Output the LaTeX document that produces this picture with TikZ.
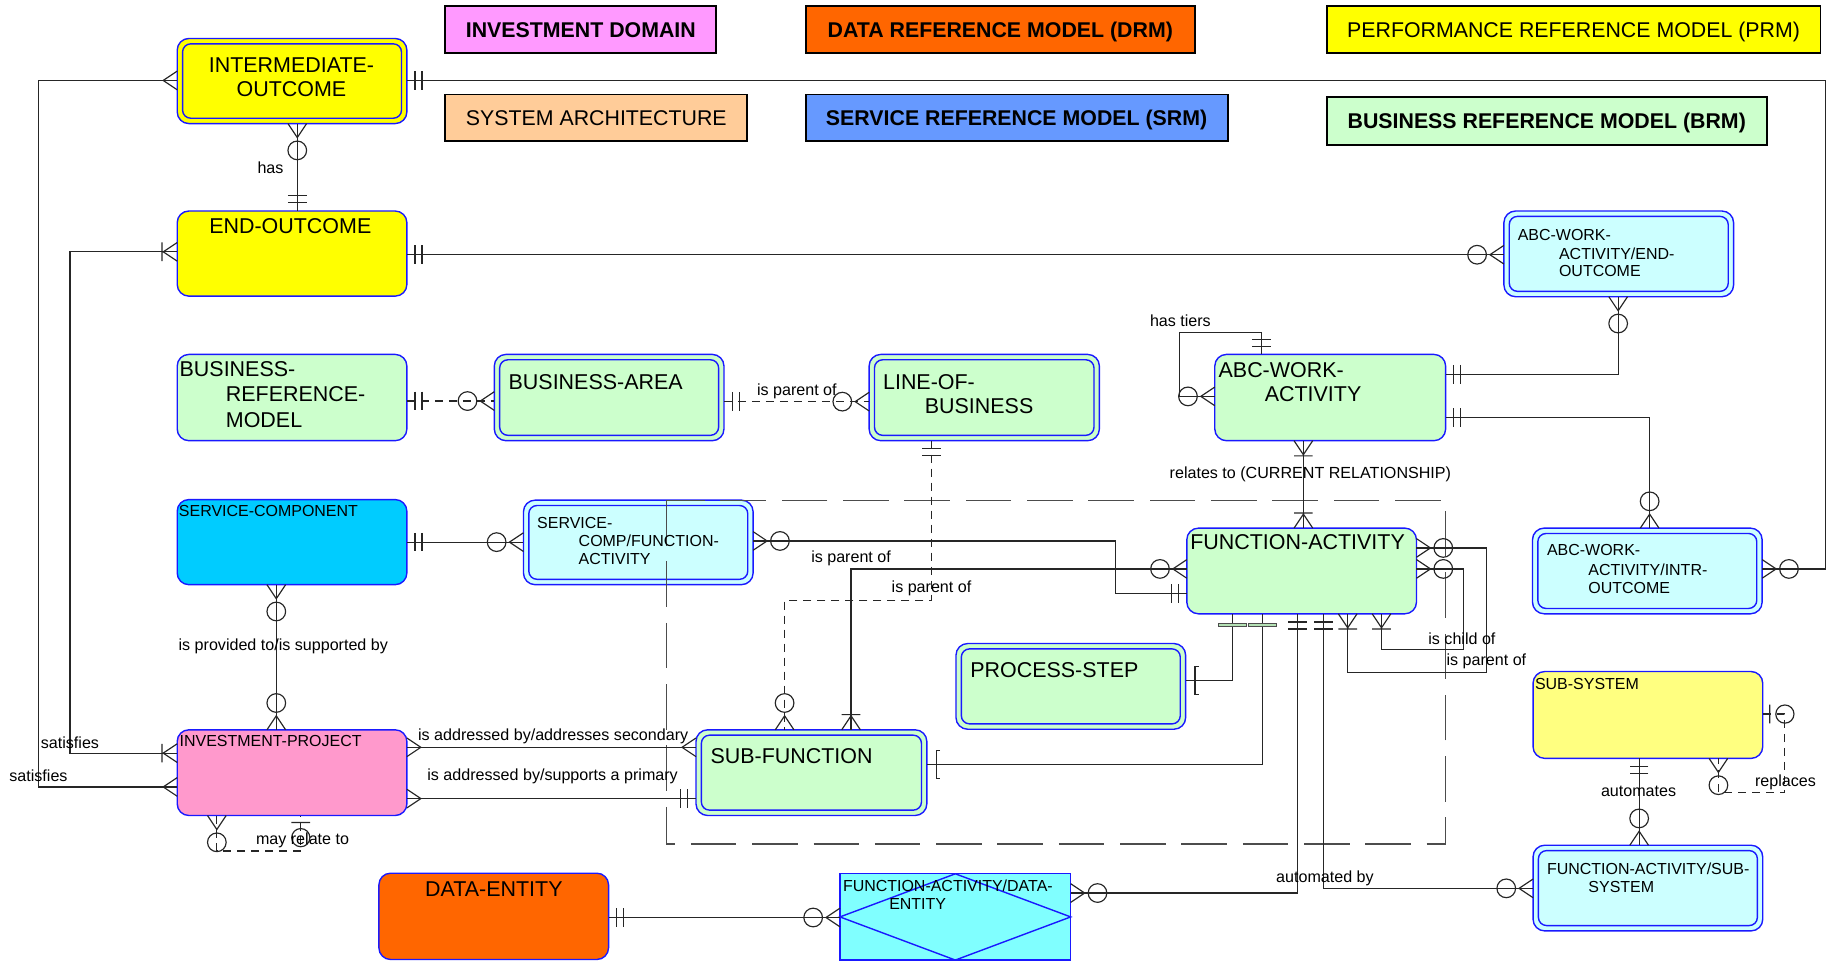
\documentclass[tikz,border=0pt]{standalone}
\usepackage{fontspec}
\setmainfont{Liberation Sans}
\definecolor{entb}{RGB}{25,25,255}
\definecolor{cyel}{RGB}{255,255,0}
\definecolor{cgrn}{RGB}{204,255,204}
\definecolor{ccyan}{RGB}{204,255,255}
\definecolor{csc}{RGB}{0,204,255}
\definecolor{css}{RGB}{255,255,128}
\definecolor{cip}{RGB}{255,153,204}
\definecolor{corg}{RGB}{255,102,0}
\definecolor{cfade}{RGB}{128,255,255}
\definecolor{cinv}{RGB}{255,153,255}
\definecolor{csa}{RGB}{255,204,153}
\definecolor{csrm}{RGB}{102,153,255}
\definecolor{gbarfill}{RGB}{180,225,180}
\newcommand{\entbox}[6]{\node[#6, minimum width={(#4-#2)*0.5pt}, minimum height={(#5-#3)*0.5pt}] (#1) at ({(#2+#4)/2},{(#3+#5)/2}) {};}
\newcommand{\innerbox}[1]{\draw[entb, line width=0.6pt, rounded corners=3.5pt] ([xshift=2.3pt,yshift=-2.3pt]#1.north west) rectangle ([xshift=-2.3pt,yshift=2.3pt]#1.south east);}
\tikzset{
 ent/.style={draw=entb, line width=0.6pt, rounded corners=5pt, inner sep=0pt, outer sep=0pt},
 legbox/.style={draw=black, line width=0.8pt, inner sep=0pt, outer sep=0pt},
 sqbox/.style={draw=entb, line width=0.6pt, inner sep=0pt, outer sep=0pt},
 big/.style={font=\fontsize{9.2}{11}\selectfont, inner sep=0pt},
 sml/.style={font=\fontsize{6.85}{8}\selectfont, inner sep=0pt},
 lab/.style={font=\fontsize{6.9}{8}\selectfont, inner sep=0pt},
 legt/.style={font=\fontsize{9.15}{11}\selectfont, inner sep=0pt, text height=6.55pt, text depth=0pt},
 legb/.style={font=\fontsize{9.15}{11}\selectfont\bfseries, inner sep=0pt, text height=6.55pt, text depth=0pt},
 rel/.style={draw=black!85, line width=0.5pt},
 rdash/.style={rel, dash pattern=on 3.5pt off 2.5pt},
 bigdash/.style={draw=black!70, line width=0.55pt, dash pattern=on 19.5pt off 6.8pt},
 crow/.pic={\draw[rel,solid] (0,8)--(12,0)--(0,-8);},
 crowbar/.pic={\draw[rel,solid] (0,8)--(12,0)--(0,-8) (13,-8)--(13,8);},
 bars/.pic={\draw[rel,solid] (7,-8)--(7,8) (13,-8)--(13,8);},
 ocrow/.pic={\draw[rel,solid] (0,8)--(12,0)--(0,-8) (23,0) circle[radius=4pt];},
 obar/.pic={\draw[rel,solid] (6,-8)--(6,8) (19,0) circle[radius=3.9pt];},
 brk/.pic={\draw[rel,solid] (11.5,-12)--(8,-12)--(8,12)--(11.5,12);},
 gbar/.pic={\filldraw[solid, fill=gbarfill, draw=black!70, line width=0.5pt] (8,-12) rectangle (11,12);},
}
\begin{document}
\begin{tikzpicture}[x=0.5pt,y=-0.5pt,line width=0.5pt]
\useasboundingbox (0,0) rectangle (1568,825);
% legend
\entbox{lg1}{382}{5}{614.5}{45.5}{legbox, fill=cinv}
\entbox{lg2}{691}{5}{1025}{45.5}{legbox, fill=corg}
\entbox{lg3}{1138}{5}{1561.5}{45.5}{legbox, fill=cyel}
\entbox{lg4}{382}{81}{641}{121}{legbox, fill=csa}
\entbox{lg5}{691}{81}{1053}{121}{legbox, fill=csrm}
\entbox{lg6}{1138}{83.5}{1515.5}{124.5}{legbox, fill=cgrn}
\node[legb] (lg1t) at (lg1) {INVESTMENT DOMAIN};
\node[legb] (lg2t) at (lg2) {DATA REFERENCE MODEL (DRM)};
\node[legt] (lg3t) at (lg3) {PERFORMANCE REFERENCE MODEL (PRM)};
\node[legt] (lg4t) at (lg4) {SYSTEM ARCHITECTURE};
\node[legb] (lg5t) at (lg5) {SERVICE REFERENCE MODEL (SRM)};
\node[legb] (lg6t) at (lg6) {BUSINESS REFERENCE MODEL (BRM)};
% entities
\entbox{io}{152}{33}{349}{106}{ent, fill=cyel}
\entbox{eo}{152}{181}{349}{254}{ent, fill=cyel}
\entbox{brm}{152}{304}{349}{378}{ent, fill=cgrn}
\entbox{ba}{424}{304}{621}{378}{ent, fill=cgrn}
\entbox{lob}{745.5}{304}{943}{378}{ent, fill=cgrn}
\entbox{abcwa}{1042}{304}{1240}{378}{ent, fill=cgrn}
\entbox{abceo}{1290}{181}{1487}{254.5}{ent, fill=ccyan}
\entbox{sc}{152}{428.5}{349}{501.5}{ent, fill=csc}
\entbox{scfa}{449}{429}{646}{501.5}{ent, fill=ccyan}
\entbox{fa}{1018}{453}{1215}{526.5}{ent, fill=cgrn}
\entbox{intr}{1314.5}{453}{1511.5}{526.5}{ent, fill=ccyan}
\entbox{ps}{820}{552}{1017}{625.5}{ent, fill=cgrn}
\entbox{ss}{1315}{576}{1512}{650.5}{ent, fill=css}
\entbox{ip}{152}{626}{349}{699.5}{ent, fill=cip}
\entbox{sf}{597}{626}{795}{699.5}{ent, fill=cgrn}
\entbox{de}{325}{749}{522}{823}{ent, fill=corg}
\entbox{fade}{720.5}{749.5}{918.4}{823.5}{sqbox, fill=cfade}
\entbox{fass}{1315}{725}{1512}{798.5}{ent, fill=ccyan}
\innerbox{io}\innerbox{ba}\innerbox{lob}\innerbox{abceo}\innerbox{scfa}
\innerbox{intr}\innerbox{ps}\innerbox{sf}\innerbox{fass}
\draw[entb, line width=0.6pt] (fade.north) -- (fade.east) -- (fade.south) -- (fade.west) -- cycle;
% big dashed frame
\draw[bigdash] (572,429) rectangle (1240,724);
% connectors
\draw[rel] (io.south -| 255,0) -- (eo.north -| 255,0);
\draw[rel] (io.east |- 0,69) -| (1566,488) -- (intr.east |- 0,488);
\draw[rel] (io.west |- 0,69) -| (33,675) -- (ip.west |- 0,675);
\draw[rel] (eo.west |- 0,216) -| (60,646) -- (ip.west |- 0,646);
\draw[rel] (eo.east |- 0,218.5) -- (abceo.west |- 0,218.5);
\draw[rel] (abceo.south -| 1388,0) |- (abcwa.east |- 0,321);
\draw[rel] (abcwa.east |- 0,358) -| (intr.north -| 1415,0);
\draw[rel] (abcwa.north -| 1082,0) -- (1082,285) -| (1012,340) -- (abcwa.west |- 0,340);
\draw[rel] (abcwa.south -| 1118,0) -- (fa.north -| 1118,0);
\draw[rdash] (brm.east |- 0,344) -- (ba.west |- 0,344);
\draw[rdash] (ba.east |- 0,344.5) -- (lob.west |- 0,344.5);
\draw[rdash] (lob.south -| 799,0) -- (799,515) -| (sf.north -| 673,0);
\draw[rel] (sc.east |- 0,465) -- (scfa.west |- 0,465);
\draw[rel] (sc.south -| 237,0) -- (ip.north -| 237,0);
\draw[rel] (scfa.east |- 0,464) -| (956.5,509) -- (fa.west |- 0,509);
\draw[rel] (fa.west |- 0,488) -| (sf.north -| 730,0);
\draw[rel] (ip.east |- 0,641) -- (sf.west |- 0,641);
\draw[rel] (ip.east |- 0,685) -- (sf.west |- 0,685);
\draw[rdash] (ip.south -| 186,0) -- (186,730) -| (ip.south -| 258,0);
\draw[rel] (fa.south -| 1057,0) |- (ps.east |- 0,584);
\draw[rel] (fa.south -| 1083,0) |- (sf.east |- 0,655.5);
\draw[rel] (fa.south -| 1113,0) |- (fade.east |- 0,766);
\draw[rel] (fa.south -| 1135,0) |- (fass.west |- 0,762);
\draw[rel] (fa.east |- 0,470) -| (1275,577) -| (fa.south -| 1156,0);
\draw[rel] (fa.east |- 0,488) -| (1255,557) -| (fa.south -| 1185,0);
\draw[rel] (de.east |- 0,787) -- (fade.west |- 0,787);
\draw[rel] (ss.south -| 1406,0) -- (fass.north -| 1406,0);
\draw[rdash] (ss.east |- 0,612.5) -- (1531,612.5) -- (1531,680) -| (ss.south -| 1474,0);
% markers
\pic[rotate=-90] at (io.south -| 255,0) {ocrow};
\pic[rotate=90] at (eo.north -| 255,0) {bars};
\pic at (io.east |- 0,69) {bars};
\pic at (intr.east |- 0,488) {ocrow};
\pic[rotate=180] at (io.west |- 0,69) {crow};
\pic[rotate=180] at (ip.west |- 0,675) {crow};
\pic[rotate=180] at (eo.west |- 0,216) {crowbar};
\pic[rotate=180] at (ip.west |- 0,646) {crowbar};
\pic at (eo.east |- 0,218.5) {bars};
\pic[rotate=180] at (abceo.west |- 0,218.5) {ocrow};
\pic[rotate=-90] at (abceo.south -| 1388,0) {ocrow};
\pic at (abcwa.east |- 0,321) {bars};
\pic at (abcwa.east |- 0,358) {bars};
\pic[rotate=90] at (intr.north -| 1415,0) {ocrow};
\pic[rotate=90] at (abcwa.north -| 1082,0) {bars};
\pic[rotate=180] at (abcwa.west |- 0,340) {ocrow};
\pic[rotate=-90] at (abcwa.south -| 1118,0) {crowbar};
\pic[rotate=90] at (fa.north -| 1118,0) {crowbar};
\pic at (brm.east |- 0,344) {bars};
\pic[rotate=180] at (ba.west |- 0,344) {ocrow};
\pic at (ba.east |- 0,344.5) {bars};
\pic[rotate=180] at (lob.west |- 0,344.5) {ocrow};
\pic[rotate=-90] at (lob.south -| 799,0) {bars};
\pic[rotate=90] at (sf.north -| 673,0) {ocrow};
\pic at (sc.east |- 0,465) {bars};
\pic[rotate=180] at (scfa.west |- 0,465) {ocrow};
\pic[rotate=-90] at (sc.south -| 237,0) {ocrow};
\pic[rotate=90] at (ip.north -| 237,0) {ocrow};
\pic at (scfa.east |- 0,464) {ocrow};
\pic[rotate=180] at (fa.west |- 0,509) {bars};
\pic[rotate=180] at (fa.west |- 0,488) {ocrow};
\pic[rotate=90] at (sf.north -| 730,0) {crowbar};
\pic at (ip.east |- 0,641) {crow};
\pic[rotate=180] at (sf.west |- 0,641) {crow};
\pic at (ip.east |- 0,685) {crow};
\pic[rotate=180] at (sf.west |- 0,685) {bars};
\pic[rotate=-90] at (ip.south -| 186,0) {ocrow};
\pic[rotate=-90] at (ip.south -| 258,0) {obar};
\pic[rotate=-90] at (fa.south -| 1057,0) {gbar};
\pic at (ps.east |- 0,584) {brk};
\pic[rotate=-90] at (fa.south -| 1083,0) {gbar};
\pic at (sf.east |- 0,655.5) {brk};
\pic[rotate=-90] at (fa.south -| 1113,0) {bars};
\pic at (fade.east |- 0,766) {ocrow};
\pic[rotate=-90] at (fa.south -| 1135,0) {bars};
\pic[rotate=180] at (fass.west |- 0,762) {ocrow};
\pic at (fa.east |- 0,470) {ocrow};
\pic[rotate=-90] at (fa.south -| 1156,0) {crowbar};
\pic at (fa.east |- 0,488) {ocrow};
\pic[rotate=-90] at (fa.south -| 1185,0) {crowbar};
\pic at (de.east |- 0,787) {bars};
\pic[rotate=180] at (fade.west |- 0,787) {ocrow};
\pic[rotate=-90] at (ss.south -| 1406,0) {bars};
\pic[rotate=90] at (fass.north -| 1406,0) {ocrow};
\pic at (ss.east |- 0,612.5) {obar};
\pic[rotate=-90] at (ss.south -| 1474,0) {ocrow};
% entity texts
\node[big, anchor=base] (tio1) at (250,62.4) {INTERMEDIATE-};
\node[big, anchor=base] (tio2) at (250,83.2) {OUTCOME};
\node[big, anchor=base] (teo) at (249,200.2) {END-OUTCOME};
\node[big, anchor=base west] (tbrm1) at (153.6,323.1) {BUSINESS-};
\node[big, anchor=base west] (tbrm2) at (193.3,344.6) {REFERENCE-};
\node[big, anchor=base west] (tbrm3) at (193.3,366.6) {MODEL};
\node[big, anchor=base west] (tba) at (435.8,334) {BUSINESS-AREA};
\node[big, anchor=base west] (tlob1) at (757,334) {LINE-OF-};
\node[big, anchor=base west] (tlob2) at (792.8,354.9) {BUSINESS};
\node[big, anchor=base west] (tabc1) at (1044.8,324) {ABC-WORK-};
\node[big, anchor=base west] (tabc2) at (1084.4,344.6) {ACTIVITY};
\node[sml, anchor=base west] (teo1) at (1301.4,206) {ABC-WORK-};
\node[sml, anchor=base west] (teo2) at (1336.8,222.3) {ACTIVITY/END-};
\node[sml, anchor=base west] (teo3) at (1336.8,237.2) {OUTCOME};
\node[sml, anchor=base west] (tsc) at (153,443) {SERVICE-COMPONENT};
\node[sml, anchor=base west] (tscfa1) at (460.3,453) {SERVICE-};
\node[sml, anchor=base west] (tscfa2) at (495.9,468.8) {COMP/FUNCTION-};
\node[sml, anchor=base west] (tscfa3) at (495.9,484.2) {ACTIVITY};
\node[big, anchor=base] (tfa) at (1113,471.2) {FUNCTION-ACTIVITY};
\node[sml, anchor=base west] (tin1) at (1326.5,476.8) {ABC-WORK-};
\node[sml, anchor=base west] (tin2) at (1362,493.4) {ACTIVITY/INTR-};
\node[sml, anchor=base west] (tin3) at (1362,508.8) {OUTCOME};
\node[big, anchor=base west] (tps) at (831.8,580.8) {PROCESS-STEP};
\node[sml, anchor=base west] (tss) at (1316.2,591.1) {SUB-SYSTEM};
\node[sml, anchor=base west] (tip) at (153.6,640.6) {INVESTMENT-PROJECT};
\node[big, anchor=base west] (tsf) at (609,654.8) {SUB-FUNCTION};
\node[big, anchor=base] (tde) at (423.6,768.6) {DATA-ENTITY};
\node[sml, anchor=base west] (tfade1) at (722.6,764.7) {FUNCTION-ACTIVITY/DATA-};
\node[sml, anchor=base west] (tfade2) at (762.3,779.9) {ENTITY};
\node[sml, anchor=base west] (tfass1) at (1326.5,749.8) {FUNCTION-ACTIVITY/SUB-};
\node[sml, anchor=base west] (tfass2) at (1362,765.6) {SYSTEM};
% relationship labels
\node[lab] (l1) at (232,144) {has};
\node[lab] (l2) at (1012.5,275) {has tiers};
\node[lab] (l3) at (683.5,336) {is parent of};
\node[lab] (l4) at (1124,406.5) {relates to (CURRENT RELATIONSHIP)};
\node[lab] (l5) at (730,479) {is parent of};
\node[lab] (l6) at (799,505) {is parent of};
\node[lab] (l7) at (243,554.5) {is provided to/is supported by};
\node[lab] (l8) at (1254,547.5) {is child of};
\node[lab] (l9) at (1275,567.5) {is parent of};
\node[lab] (l10) at (60,637.5) {satisfies};
\node[lab] (l11) at (33,665.5) {satisfies};
\node[lab] (l12) at (474.5,632) {is addressed by/addresses secondary};
\node[lab] (l13) at (474,666) {is addressed by/supports a primary};
\node[lab] (l14) at (1405.5,678.5) {automates};
\node[lab] (l15) at (1531.5,671) {replaces};
\node[lab] (l16) at (259.5,721) {may relate to};
\node[lab] (l17) at (1136.5,753.5) {automated by};
\end{tikzpicture}
\end{document}
